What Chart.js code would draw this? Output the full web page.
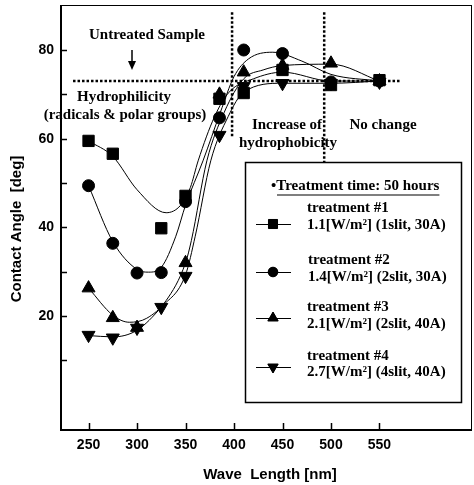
<!DOCTYPE html>
<html>
<head>
<meta charset="utf-8">
<script src="https://cdn.jsdelivr.net/npm/chart.js@4.4.0/dist/chart.umd.min.js"></script>
<style>
  html, body { margin: 0; padding: 0; background: #fff; }
  #wrap { width: 474px; height: 485px; }
</style>
</head>
<body>
<div id="wrap"><canvas id="angleChart" width="474" height="485"></canvas></div>
<script>
// measured contact angles (deg) per wave length (nm)
const waveLengths = [250, 275, 300, 325, 350, 385, 410, 450, 500, 550];
const treatment1 = [59.5, 56.6, null, 39.8, 47.1, 69.0, 70.3, 75.5, 72.1, 73.2];
const treatment2 = [49.4, 36.4, 29.7, 29.8, 45.8, 64.7, 80.0, 79.2, 72.8, 73.0];
const treatment3 = [26.3, 19.6, 17.4, null, 32.0, 70.0, 75.0, 76.5, 77.0, 73.0];
const treatment4 = [15.7, 15.1, 17.3, 22.0, 29.0, 60.8, 71.8, 72.5, 72.5, 72.8];

// fitted curves
const fit1X = [250, 275, 300, 330, 345, 355, 363, 380, 395, 420, 450, 500, 550];
const fit1Y = [59.5, 56, 48.5, 43.3, 45, 49, 55, 65, 70.5, 73.5, 75, 73, 73];
const fit2X = [250, 275, 300, 312, 325, 340, 350, 368, 386, 400, 415, 440, 470, 500, 550];
const fit2Y = [49.4, 36.8, 30.5, 29.9, 31, 38, 45, 55, 66, 74, 78, 79.5, 77.5, 74.5, 73];
const fit3X = [250, 275, 292, 310, 330, 350, 356, 372, 390, 410, 430, 450, 500, 550];
const fit3Y = [26.3, 20.2, 18.6, 19.5, 23.5, 32, 37, 55, 66, 73.5, 75.5, 76.5, 76.8, 73];
const fit4X = [250, 275, 300, 325, 350, 360, 376, 394, 410, 450, 500, 550];
const fit4Y = [15.6, 15.3, 16.8, 22, 29.3, 38, 55, 65, 70.5, 72.5, 72.5, 73];

const xTicks = [250, 300, 350, 400, 450, 500, 550];
const yTicks = [10, 20, 30, 40, 50, 60, 70, 80];

// untreated sample level and region borders
const untreatedLevel = 73.0;
const untreatedFrom = 234;
const untreatedTo = 571;
const regionBorders = [398, 493];
const regionTops = [88.5, 88.5];
const regionBottoms = [60.5, 54.7];

const legendHead = '\u2022Treatment time: 50 hours';
const legendNames = ['treatment #1', 'treatment #2', 'treatment #3', 'treatment #4'];
const legendInfo = [
  '1.1[W/m\u00b2] (1slit, 30A)',
  '1.4[W/m\u00b2] (2slit, 30A)',
  '2.1[W/m\u00b2] (2slit, 40A)',
  '2.7[W/m\u00b2] (4slit, 40A)'
];

function pairs(xs, ys) {
  const out = [];
  xs.forEach((v, i) => { if (ys[i] !== null) out.push({ x: v, y: ys[i] }); });
  return out;
}

const markers = [
  { style: 'rect', radius: 8, rotation: 0 },
  { style: 'circle', radius: 6, rotation: 0 },
  { style: 'triangle', radius: 7.5, rotation: 0 },
  { style: 'triangle', radius: 7.5, rotation: 180 }
];

function curveSet(xs, ys) {
  return {
    data: pairs(xs, ys),
    showLine: true,
    pointRadius: 0,
    borderColor: '#000',
    borderWidth: 1,
    cubicInterpolationMode: 'monotone'
  };
}

function pointSet(ys, m) {
  return {
    data: pairs(waveLengths, ys),
    showLine: false,
    pointStyle: m.style,
    pointRadius: m.radius,
    rotation: m.rotation,
    backgroundColor: '#000',
    borderColor: '#000',
    borderWidth: 1
  };
}

const serif = 'bold 15px "Liberation Serif", "Times New Roman", serif';
const sans = 'bold 15px "Liberation Sans", Arial, sans-serif';

const decorations = {
  id: 'decorations',
  beforeDatasetsDraw(chart) {
    const { ctx, scales: { x, y } } = chart;
    ctx.save();
    ctx.strokeStyle = '#000';
    ctx.lineWidth = 2.5;
    ctx.setLineDash([2.5, 2]);
    ctx.beginPath();
    ctx.moveTo(x.getPixelForValue(untreatedFrom), y.getPixelForValue(untreatedLevel));
    ctx.lineTo(x.getPixelForValue(untreatedTo), y.getPixelForValue(untreatedLevel));
    regionBorders.forEach((b, i) => {
      ctx.moveTo(x.getPixelForValue(b), y.getPixelForValue(regionTops[i]));
      ctx.lineTo(x.getPixelForValue(b), y.getPixelForValue(regionBottoms[i]));
    });
    ctx.stroke();
    ctx.restore();
  },
  afterDraw(chart) {
    const { ctx, chartArea: a, scales: { x, y } } = chart;
    ctx.save();
    ctx.strokeStyle = '#000';
    ctx.fillStyle = '#000';

    // frame
    ctx.lineWidth = 1;
    ctx.beginPath();
    ctx.moveTo(a.left, a.top + 0.5);
    ctx.lineTo(a.right, a.top + 0.5);
    ctx.moveTo(a.right - 0.5, a.top);
    ctx.lineTo(a.right - 0.5, a.bottom);
    ctx.stroke();
    ctx.lineWidth = 2;
    ctx.beginPath();
    ctx.moveTo(a.left, a.top);
    ctx.lineTo(a.left, a.bottom);
    ctx.lineTo(a.right, a.bottom);
    ctx.stroke();

    // inner tick marks
    ctx.lineWidth = 1.5;
    ctx.beginPath();
    yTicks.forEach(v => {
      const py = Math.round(y.getPixelForValue(v)) + 0.5;
      ctx.moveTo(a.left, py);
      ctx.lineTo(a.left + 6, py);
    });
    xTicks.forEach(v => {
      const px = Math.round(x.getPixelForValue(v)) + 0.5;
      ctx.moveTo(px, a.bottom);
      ctx.lineTo(px, a.bottom - 7);
    });
    ctx.stroke();

    // axis titles
    ctx.font = sans;
    ctx.textAlign = 'center';
    ctx.textBaseline = 'middle';
    ctx.fillText('Wave  Length [nm]', 270, 475);
    ctx.save();
    ctx.translate(17, 229);
    ctx.rotate(-Math.PI / 2);
    ctx.fillText('Contact Angle  [deg]', 0, 0);
    ctx.restore();

    // annotations
    ctx.font = serif;
    ctx.fillText('Untreated Sample', 147, 35);
    ctx.fillText('Hydrophilicity', 124, 97);
    ctx.fillText('(radicals & polar groups)', 125, 115);
    ctx.fillText('Increase of', 287, 125);
    ctx.fillText('hydrophobicity', 288, 143);
    ctx.fillText('No change', 383, 125);

    // arrow
    ctx.lineWidth = 1.5;
    ctx.beginPath();
    ctx.moveTo(132, 50);
    ctx.lineTo(132, 66);
    ctx.stroke();
    ctx.beginPath();
    ctx.moveTo(128, 61);
    ctx.lineTo(132, 70);
    ctx.lineTo(136, 61);
    ctx.closePath();
    ctx.fill();

    // legend box
    ctx.fillStyle = '#fff';
    ctx.fillRect(245, 162, 217, 241);
    ctx.fillStyle = '#000';
    ctx.lineWidth = 1.5;
    ctx.strokeRect(245.5, 162.5, 216, 240);

    ctx.textAlign = 'left';
    ctx.fillText(legendHead, 271, 186);
    const headW = ctx.measureText(legendHead).width;
    ctx.lineWidth = 1.2;
    ctx.beginPath();
    ctx.moveTo(277, 195);
    ctx.lineTo(271 + headW, 195);
    ctx.stroke();

    const nameY = [208, 260, 307, 356];
    const infoY = [225, 277, 324, 372];
    const markY = [224, 272, 318, 367];
    const textX = [307, 308, 307, 307];
    legendNames.forEach((n, i) => {
      ctx.fillText(n, textX[i], nameY[i]);
      ctx.fillText(legendInfo[i], textX[i], infoY[i]);
      ctx.lineWidth = 1;
      ctx.beginPath();
      ctx.moveTo(256, markY[i] + 0.5);
      ctx.lineTo(291, markY[i] + 0.5);
      ctx.stroke();
      const m = markers[i];
      Chart.helpers.drawPoint(ctx, {
        pointStyle: m.style,
        radius: m.radius * 0.8,
        rotation: m.rotation,
        borderWidth: 1
      }, 273, markY[i]);
      ctx.fill();
    });
    ctx.restore();
  }
};

const ctx = document.getElementById('angleChart').getContext('2d');
const angleChart = new Chart(ctx, {
  type: 'scatter',
  data: {
    datasets: [
      curveSet(fit1X, fit1Y),
      curveSet(fit2X, fit2Y),
      curveSet(fit3X, fit3Y),
      curveSet(fit4X, fit4Y),
      pointSet(treatment1, markers[0]),
      pointSet(treatment2, markers[1]),
      pointSet(treatment3, markers[2]),
      pointSet(treatment4, markers[3])
    ]
  },
  options: {
    responsive: false,
    animation: false,
    devicePixelRatio: 1,
    layout: { autoPadding: false, padding: { top: 5, right: 2, left: 0, bottom: 0 } },
    plugins: {
      legend: { display: false },
      tooltip: { enabled: false }
    },
    scales: {
      x: {
        type: 'linear',
        min: 221.6,
        max: 645.4,
        border: { display: false },
        grid: { display: false, drawTicks: false },
        afterBuildTicks: s => { s.ticks = xTicks.map(v => ({ value: v })); },
        afterFit: s => { s.height = 55; s.paddingLeft = 0; s.paddingRight = 0; },
        ticks: {
          padding: 7,
          color: '#000',
          maxRotation: 0,
          autoSkip: false,
          font: { family: '"Liberation Sans", Arial, sans-serif', size: 14, weight: 'bold' }
        }
      },
      y: {
        min: -5.7,
        max: 90.15,
        border: { display: false },
        grid: { display: false, drawTicks: false },
        afterBuildTicks: s => { s.ticks = yTicks.map(v => ({ value: v })); },
        afterFit: s => { s.width = 61; s.paddingTop = 0; s.paddingBottom = 0; },
        ticks: {
          padding: 7,
          color: '#000',
          autoSkip: false,
          callback: v => (v % 20 === 0 ? v : ''),
          font: { family: '"Liberation Sans", Arial, sans-serif', size: 14, weight: 'bold' }
        }
      }
    }
  },
  plugins: [decorations]
});
</script>
</body>
</html>
